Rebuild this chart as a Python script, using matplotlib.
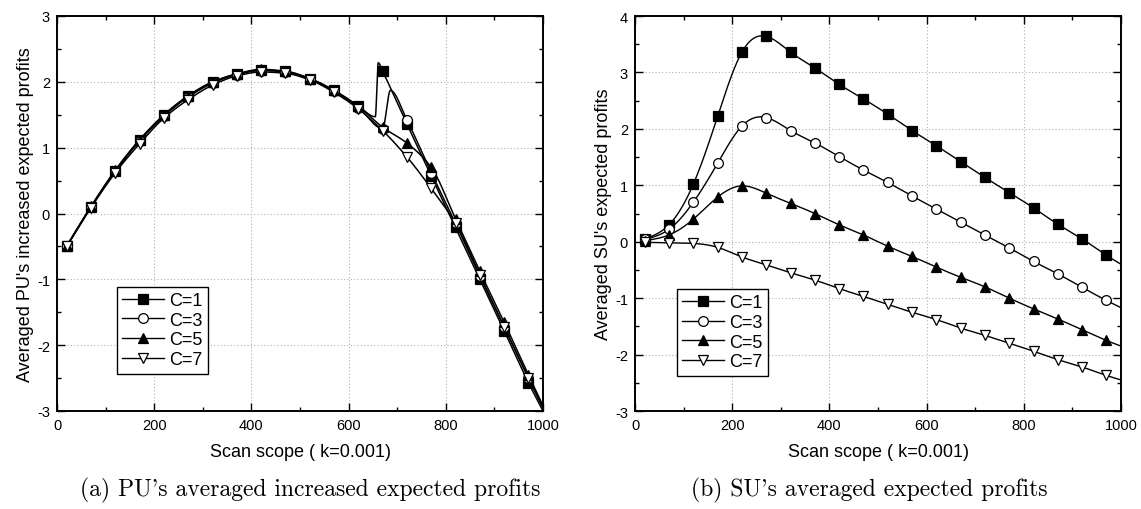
import numpy as np
import matplotlib
matplotlib.use("Agg")
import matplotlib.pyplot as plt
from matplotlib.ticker import MultipleLocator

# ---------------- data ----------------
x_marks = [20, 70, 120, 170, 220, 270, 320, 370, 420, 470, 520, 570, 620, 670, 720, 770, 820, 870, 920, 970]
x_end = 1000

# (a) PU's averaged increased expected profits
pu_c1 = [-0.50, 0.10, 0.65, 1.12, 1.49, 1.78, 1.99, 2.12, 2.18, 2.16, 2.05, 1.87, 1.63, 2.16, 1.36, 0.57, -0.21, -1.00, -1.78, -2.57]
pu_c3 = [-0.50, 0.10, 0.64, 1.10, 1.48, 1.77, 1.98, 2.11, 2.17, 2.15, 2.04, 1.86, 1.61, 1.29, 1.42, 0.62, -0.15, -0.95, -1.72, -2.50]
pu_c5 = [-0.49, 0.11, 0.66, 1.12, 1.50, 1.79, 2.00, 2.12, 2.19, 2.16, 2.05, 1.87, 1.63, 1.31, 1.07, 0.70, -0.08, -0.88, -1.65, -2.45]
pu_c7 = [-0.50, 0.09, 0.62, 1.06, 1.45, 1.73, 1.95, 2.09, 2.15, 2.13, 2.03, 1.84, 1.59, 1.26, 0.86, 0.38, -0.15, -0.93, -1.72, -2.50]
pu_end = [-3.00, -2.95, -2.92, -2.95]
# unmarked intermediate samples (the jumps near 660-690)
pu_c1_extra_x = [655, 661]
pu_c1_extra_y = [1.47, 2.29]
pu_c3_extra_x = [686]
pu_c3_extra_y = [1.87]

# (b) SU's averaged expected profits
su_c1 = [0.05, 0.30, 1.02, 2.22, 3.36, 3.64, 3.36, 3.08, 2.79, 2.53, 2.26, 1.97, 1.70, 1.42, 1.14, 0.87, 0.60, 0.31, 0.05, -0.24]
su_c3 = [0.04, 0.22, 0.70, 1.39, 2.05, 2.20, 1.97, 1.75, 1.51, 1.27, 1.05, 0.81, 0.58, 0.35, 0.12, -0.11, -0.35, -0.57, -0.81, -1.04]
su_c5 = [0.02, 0.12, 0.40, 0.79, 0.99, 0.86, 0.68, 0.50, 0.30, 0.12, -0.08, -0.26, -0.45, -0.63, -0.80, -1.00, -1.19, -1.37, -1.56, -1.75]
su_c7 = [-0.01, -0.02, -0.03, -0.10, -0.27, -0.41, -0.55, -0.68, -0.83, -0.97, -1.11, -1.25, -1.38, -1.53, -1.66, -1.80, -1.94, -2.09, -2.22, -2.37]
su_end = [-0.40, -1.17, -1.85, -2.45]

labels = ["C=1", "C=3", "C=5", "C=7"]
markers = ["s", "o", "^", "v"]
mfaces = ["black", "white", "black", "white"]

xlabel = "Scan scope ( k=0.001)"
ylabel_a = "Averaged PU's increased expected profits"
ylabel_b = "Averaged SU's expected profits"
caption_a = "(a) PU's averaged increased expected profits"
caption_b = "(b) SU's averaged expected profits"


# ---------------- interpolation helpers ----------------
def pchip(x, y, xn):
    x = np.asarray(x, float); y = np.asarray(y, float)
    h = np.diff(x); d = np.diff(y) / h
    n = len(x); m = np.zeros(n)
    for k in range(1, n - 1):
        if d[k - 1] * d[k] > 0:
            w1 = 2 * h[k] + h[k - 1]; w2 = h[k] + 2 * h[k - 1]
            m[k] = (w1 + w2) / (w1 / d[k - 1] + w2 / d[k])
    m[0] = d[0]; m[-1] = d[-1]
    idx = np.clip(np.searchsorted(x, xn) - 1, 0, n - 2)
    t = (xn - x[idx]) / h[idx]
    h00 = 2 * t**3 - 3 * t**2 + 1; h10 = t**3 - 2 * t**2 + t
    h01 = -2 * t**3 + 3 * t**2; h11 = t**3 - t**2
    return h00 * y[idx] + h10 * h[idx] * m[idx] + h01 * y[idx + 1] + h11 * h[idx] * m[idx + 1]


def cspline(x, y, xn):
    x = np.asarray(x, float); y = np.asarray(y, float)
    n = len(x); h = np.diff(x)
    A = np.zeros((n, n)); b = np.zeros(n)
    A[0, 0] = 1; A[-1, -1] = 1
    for i in range(1, n - 1):
        A[i, i - 1] = h[i - 1]; A[i, i] = 2 * (h[i - 1] + h[i]); A[i, i + 1] = h[i]
        b[i] = 6 * ((y[i + 1] - y[i]) / h[i] - (y[i] - y[i - 1]) / h[i - 1])
    M = np.linalg.solve(A, b)
    idx = np.clip(np.searchsorted(x, xn) - 1, 0, n - 2)
    xi = x[idx]; xi1 = x[idx + 1]; hi = h[idx]
    return (M[idx] * (xi1 - xn)**3 / (6 * hi) + M[idx + 1] * (xn - xi)**3 / (6 * hi)
            + (y[idx] / hi - M[idx] * hi / 6) * (xi1 - xn)
            + (y[idx + 1] / hi - M[idx + 1] * hi / 6) * (xn - xi))


# ---------------- figure ----------------
plt.rcParams['font.family'] = ['Liberation Sans', 'DejaVu Sans']
plt.rcParams['axes.unicode_minus'] = False
fig = plt.figure(figsize=(11.41, 5.10), dpi=100)
axA = fig.add_axes([57 / 1141, 98 / 510, 486 / 1141, 395 / 510])
axB = fig.add_axes([635 / 1141, 98 / 510, 486 / 1141, 395 / 510])


def style(ax, ylo, yhi):
    ax.set_xlim(0, 1000)
    ax.set_ylim(ylo, yhi)
    ax.xaxis.set_major_locator(MultipleLocator(200))
    ax.xaxis.set_minor_locator(MultipleLocator(100))
    ax.yaxis.set_major_locator(MultipleLocator(1))
    ax.yaxis.set_minor_locator(MultipleLocator(0.5))
    ax.tick_params(which='both', direction='in', top=True, right=True, labelsize=10.5, width=1.0)
    ax.tick_params(which='major', length=6, pad=5)
    ax.tick_params(which='minor', length=3)
    ax.grid(True, which='major', linestyle=(0, (1, 2)), color='#b0b0b0', linewidth=0.8)
    ax.set_axisbelow(True)
    for s in ax.spines.values():
        s.set_linewidth(1.4)
    ax.set_xlabel(xlabel, fontsize=13, labelpad=8)


# panel (a)
pu_series = [pu_c1, pu_c3, pu_c5, pu_c7]
extras = [(pu_c1_extra_x, pu_c1_extra_y), (pu_c3_extra_x, pu_c3_extra_y), ([], []), ([], [])]
handles = []
for i, ys in enumerate(pu_series):
    xs = list(x_marks) + [x_end] + list(extras[i][0])
    yv = list(ys) + [pu_end[i]] + list(extras[i][1])
    order = np.argsort(xs)
    xs = np.array(xs, float)[order]; yv = np.array(yv, float)[order]
    xn = np.linspace(xs[0], xs[-1], 2000)
    axA.plot(xn, pchip(xs, yv, xn), color='black', lw=1.1, zorder=2)
    axA.plot(x_marks, ys, linestyle='none', marker=markers[i], ms=7,
             mfc=mfaces[i], mec='black', mew=0.9, zorder=3)
    h, = axA.plot([], [], color='black', lw=1.0, marker=markers[i], ms=7,
                  mfc=mfaces[i], mec='black', mew=0.9, label=labels[i])
    handles.append(h)
style(axA, -3, 3)
axA.set_ylabel(ylabel_a, fontsize=13, labelpad=2)
legA = axA.legend(handles=handles, loc='upper left', bbox_to_anchor=(0.123, 0.315),
                  fontsize=13, frameon=True, fancybox=False, framealpha=1,
                  edgecolor='black', handlelength=2.3, handletextpad=0.3,
                  labelspacing=0.15, borderpad=0.3, borderaxespad=0)
legA.get_frame().set_linewidth(1.0)

# panel (b)
su_series = [su_c1, su_c3, su_c5, su_c7]
handles = []
for i, ys in enumerate(su_series):
    xs = np.array(list(x_marks) + [x_end], float)
    yv = np.array(list(ys) + [su_end[i]], float)
    xn = np.linspace(xs[0], xs[-1], 2000)
    axB.plot(xn, cspline(xs, yv, xn), color='black', lw=1.0, zorder=2)
    axB.plot(x_marks, ys, linestyle='none', marker=markers[i], ms=7,
             mfc=mfaces[i], mec='black', mew=0.9, zorder=3)
    h, = axB.plot([], [], color='black', lw=1.0, marker=markers[i], ms=7,
                  mfc=mfaces[i], mec='black', mew=0.9, label=labels[i])
    handles.append(h)
style(axB, -3, 4)
axB.set_ylabel(ylabel_b, fontsize=13, labelpad=2)
legB = axB.legend(handles=handles, loc='upper left', bbox_to_anchor=(0.086, 0.309),
                  fontsize=13, frameon=True, fancybox=False, framealpha=1,
                  edgecolor='black', handlelength=2.3, handletextpad=0.3,
                  labelspacing=0.15, borderpad=0.3, borderaxespad=0)
legB.get_frame().set_linewidth(1.0)

fig.text(0.272, 0.038, caption_a, fontsize=17, family=['cmr10', 'DejaVu Serif'], ha='center', va='center')
fig.text(0.762, 0.038, caption_b, fontsize=17, family=['cmr10', 'DejaVu Serif'], ha='center', va='center')

fig.savefig("out.png", dpi=100)
